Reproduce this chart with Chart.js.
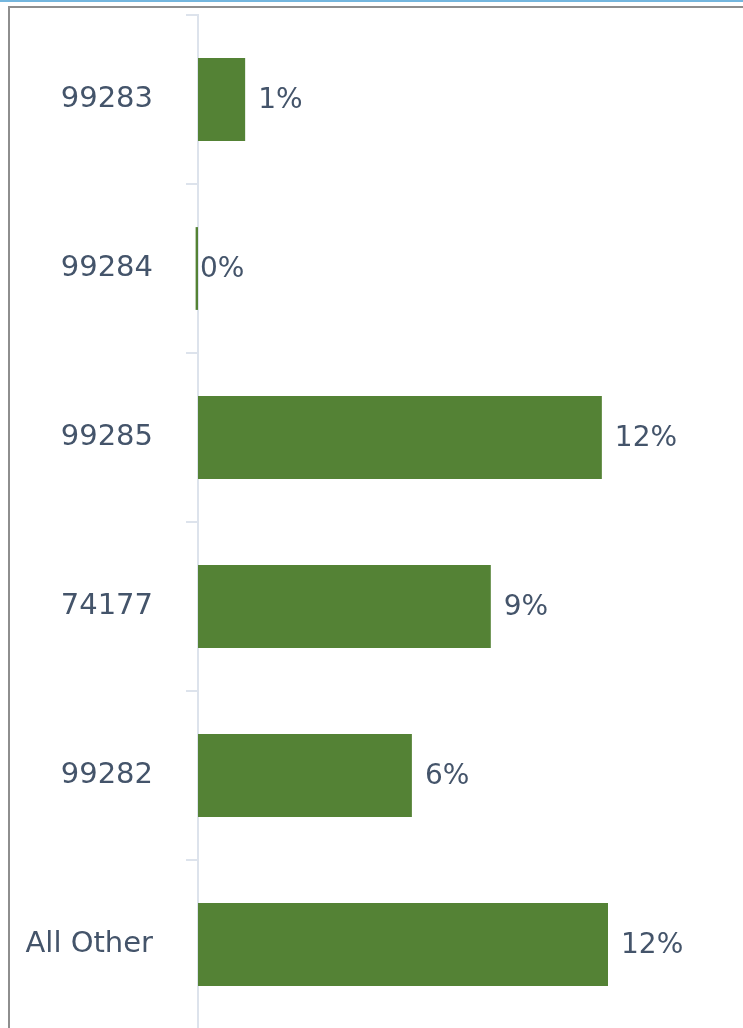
<!DOCTYPE html>
<html>
<head>
<meta charset="utf-8">
<script src="https://cdn.jsdelivr.net/npm/chart.js@4/dist/chart.umd.min.js"></script>
<style>
  html, body { margin: 0; padding: 0; background: #ffffff; overflow: hidden; width: 743px; height: 1028px; }
  #wrap { position: absolute; left: 0; top: 0; width: 743px; height: 1030px; }
  #c { position: absolute; left: 0; top: 0; }
  .ln { position: absolute; }
</style>
</head>
<body>
<div id="wrap">
  <div class="ln" style="left:0;top:0;width:743px;height:2px;background:#74b6de;"></div>
  <div class="ln" style="left:8px;top:6px;width:735px;height:2px;background:#8e8e8e;"></div>
  <div class="ln" style="left:8px;top:6px;width:2px;height:1024px;background:#8e8e8e;"></div>
  <canvas id="c" width="743" height="1030"></canvas>
</div>
<script>
const categories = ["99283", "99284", "99285", "74177", "99282", "All Other"];
const shareValues = [1.38, -0.07, 11.82, 8.57, 6.26, 12.0];

const labelColor = "#44546a";
const barColor = "#548235";

const dataLabels = {
  id: "dataLabels",
  afterDatasetsDraw(chart) {
    const ctx = chart.ctx;
    const meta = chart.getDatasetMeta(0);
    ctx.save();
    ctx.font = "28px 'DejaVu Sans'";
    ctx.fillStyle = labelColor;
    ctx.textAlign = "left";
    ctx.textBaseline = "middle";
    meta.data.forEach((el, i) => {
      const v = chart.data.datasets[0].data[i];
      const x = v > 0 ? Math.max(el.x, el.base) + 13 : el.base + 2;
      ctx.fillText(Math.round(v) + "%", x, el.y + 1);
    });
    ctx.restore();
  }
};

new Chart(document.getElementById("c"), {
  type: "bar",
  data: {
    labels: categories,
    datasets: [{
      data: shareValues,
      backgroundColor: barColor,
      borderWidth: 0,
      categoryPercentage: 1,
      barPercentage: 0.49,
      clip: false
    }]
  },
  options: {
    indexAxis: "y",
    responsive: false,
    animation: false,
    layout: { padding: { top: 15, right: 32.5, bottom: 1, left: 0 } },
    plugins: { legend: { display: false }, tooltip: { enabled: false } },
    scales: {
      x: { display: false, min: 0, max: 15 },
      y: {
        afterFit(s) { s.width = 198; s.paddingTop = 0; s.paddingBottom = 0; },
        border: { display: true, color: "#dde3ec", width: 2 },
        grid: { display: true, offset: true, drawOnChartArea: false, tickLength: 12, color: "#dde3ec", lineWidth: 2 },
        ticks: { color: labelColor, padding: 33, font: { family: "'DejaVu Sans'", size: 29 } }
      }
    }
  },
  plugins: [dataLabels]
});
</script>
</body>
</html>
